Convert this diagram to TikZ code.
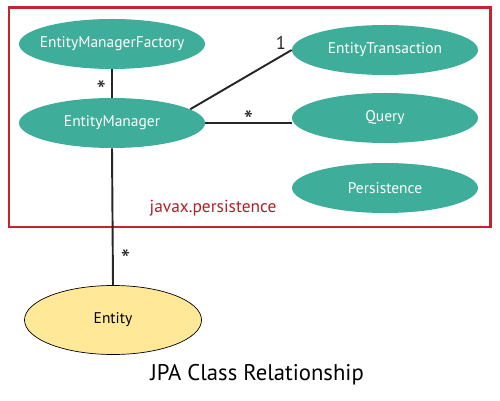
\documentclass[tikz,border=0pt]{standalone}
\usepackage{fontspec}
\setmainfont{PT Sans}
\usetikzlibrary{shapes.geometric}
\definecolor{jpateal}{HTML}{3EAD99}
\definecolor{jpayellow}{HTML}{FFE998}
\definecolor{jpared}{HTML}{C4242B}
\newcommand{\cname}[1]{\makebox[0pt]{#1}}
\begin{document}
\begin{tikzpicture}[
    cls/.style={ellipse, fill=jpateal, text=white, minimum width=3.72cm, minimum height=1cm, inner sep=0pt, font=\fontsize{8.8}{10}\selectfont},
    ent/.style={ellipse, draw=black, thin, fill=jpayellow, minimum width=3.54cm, minimum height=1.38cm, inner sep=0pt, font=\fontsize{8.8}{10}\selectfont},
    link/.style={line width=1.1pt, black!85},
    mult/.style={font=\fontsize{15}{16}\selectfont, inner sep=1pt}]
    \useasboundingbox (0,0) rectangle (10,8);
    \coordinate (BoxSW) at (0.18,3.46);
    \coordinate (BoxNE) at (9.8,7.84);
    \draw [line width=1.7pt, jpared] (BoxSW) rectangle (BoxNE);% package frame
    \node [cls] (emf) at (2.24,7.12) {\cname{EntityManagerFactory}};
    \node [cls] (em) at (2.24,5.54) {\cname{EntityManager}};
    \node [cls] (et) at (7.7,7.0) {\cname{EntityTransaction}};
    \node [cls] (query) at (7.7,5.64) {\cname{Query}};
    \node [cls] (pers) at (7.7,4.24) {\cname{Persistence}};
    \node [ent] (entity) at (2.26,1.6) {\cname{Entity}};
    \node [text=jpared!90!black, font=\fontsize{9.9}{11}\selectfont] (pkg) at (4.26,3.84) {javax.persistence};
    \node [font=\fontsize{12.9}{15}\selectfont] (title) at (5.14,0.5) {JPA Class Relationship};
    \draw [link] (emf.south) -- (em.north) node[mult,pos=0.5,left=2pt,yshift=-4pt]{*};
    \draw [link] (em.10) -- (et.west) node[mult,pos=0.97,above left,font=\fontsize{10.5}{12}\selectfont]{1};
    \draw [link] (em.east) -- (em.east -| query.west) node[mult,pos=0.5,above,yshift=-5pt]{*};
    \draw [link] (em.south) -- (entity.north) node[mult,pos=0.76,right=3pt,yshift=-4pt]{*};
\end{tikzpicture}
\end{document}
